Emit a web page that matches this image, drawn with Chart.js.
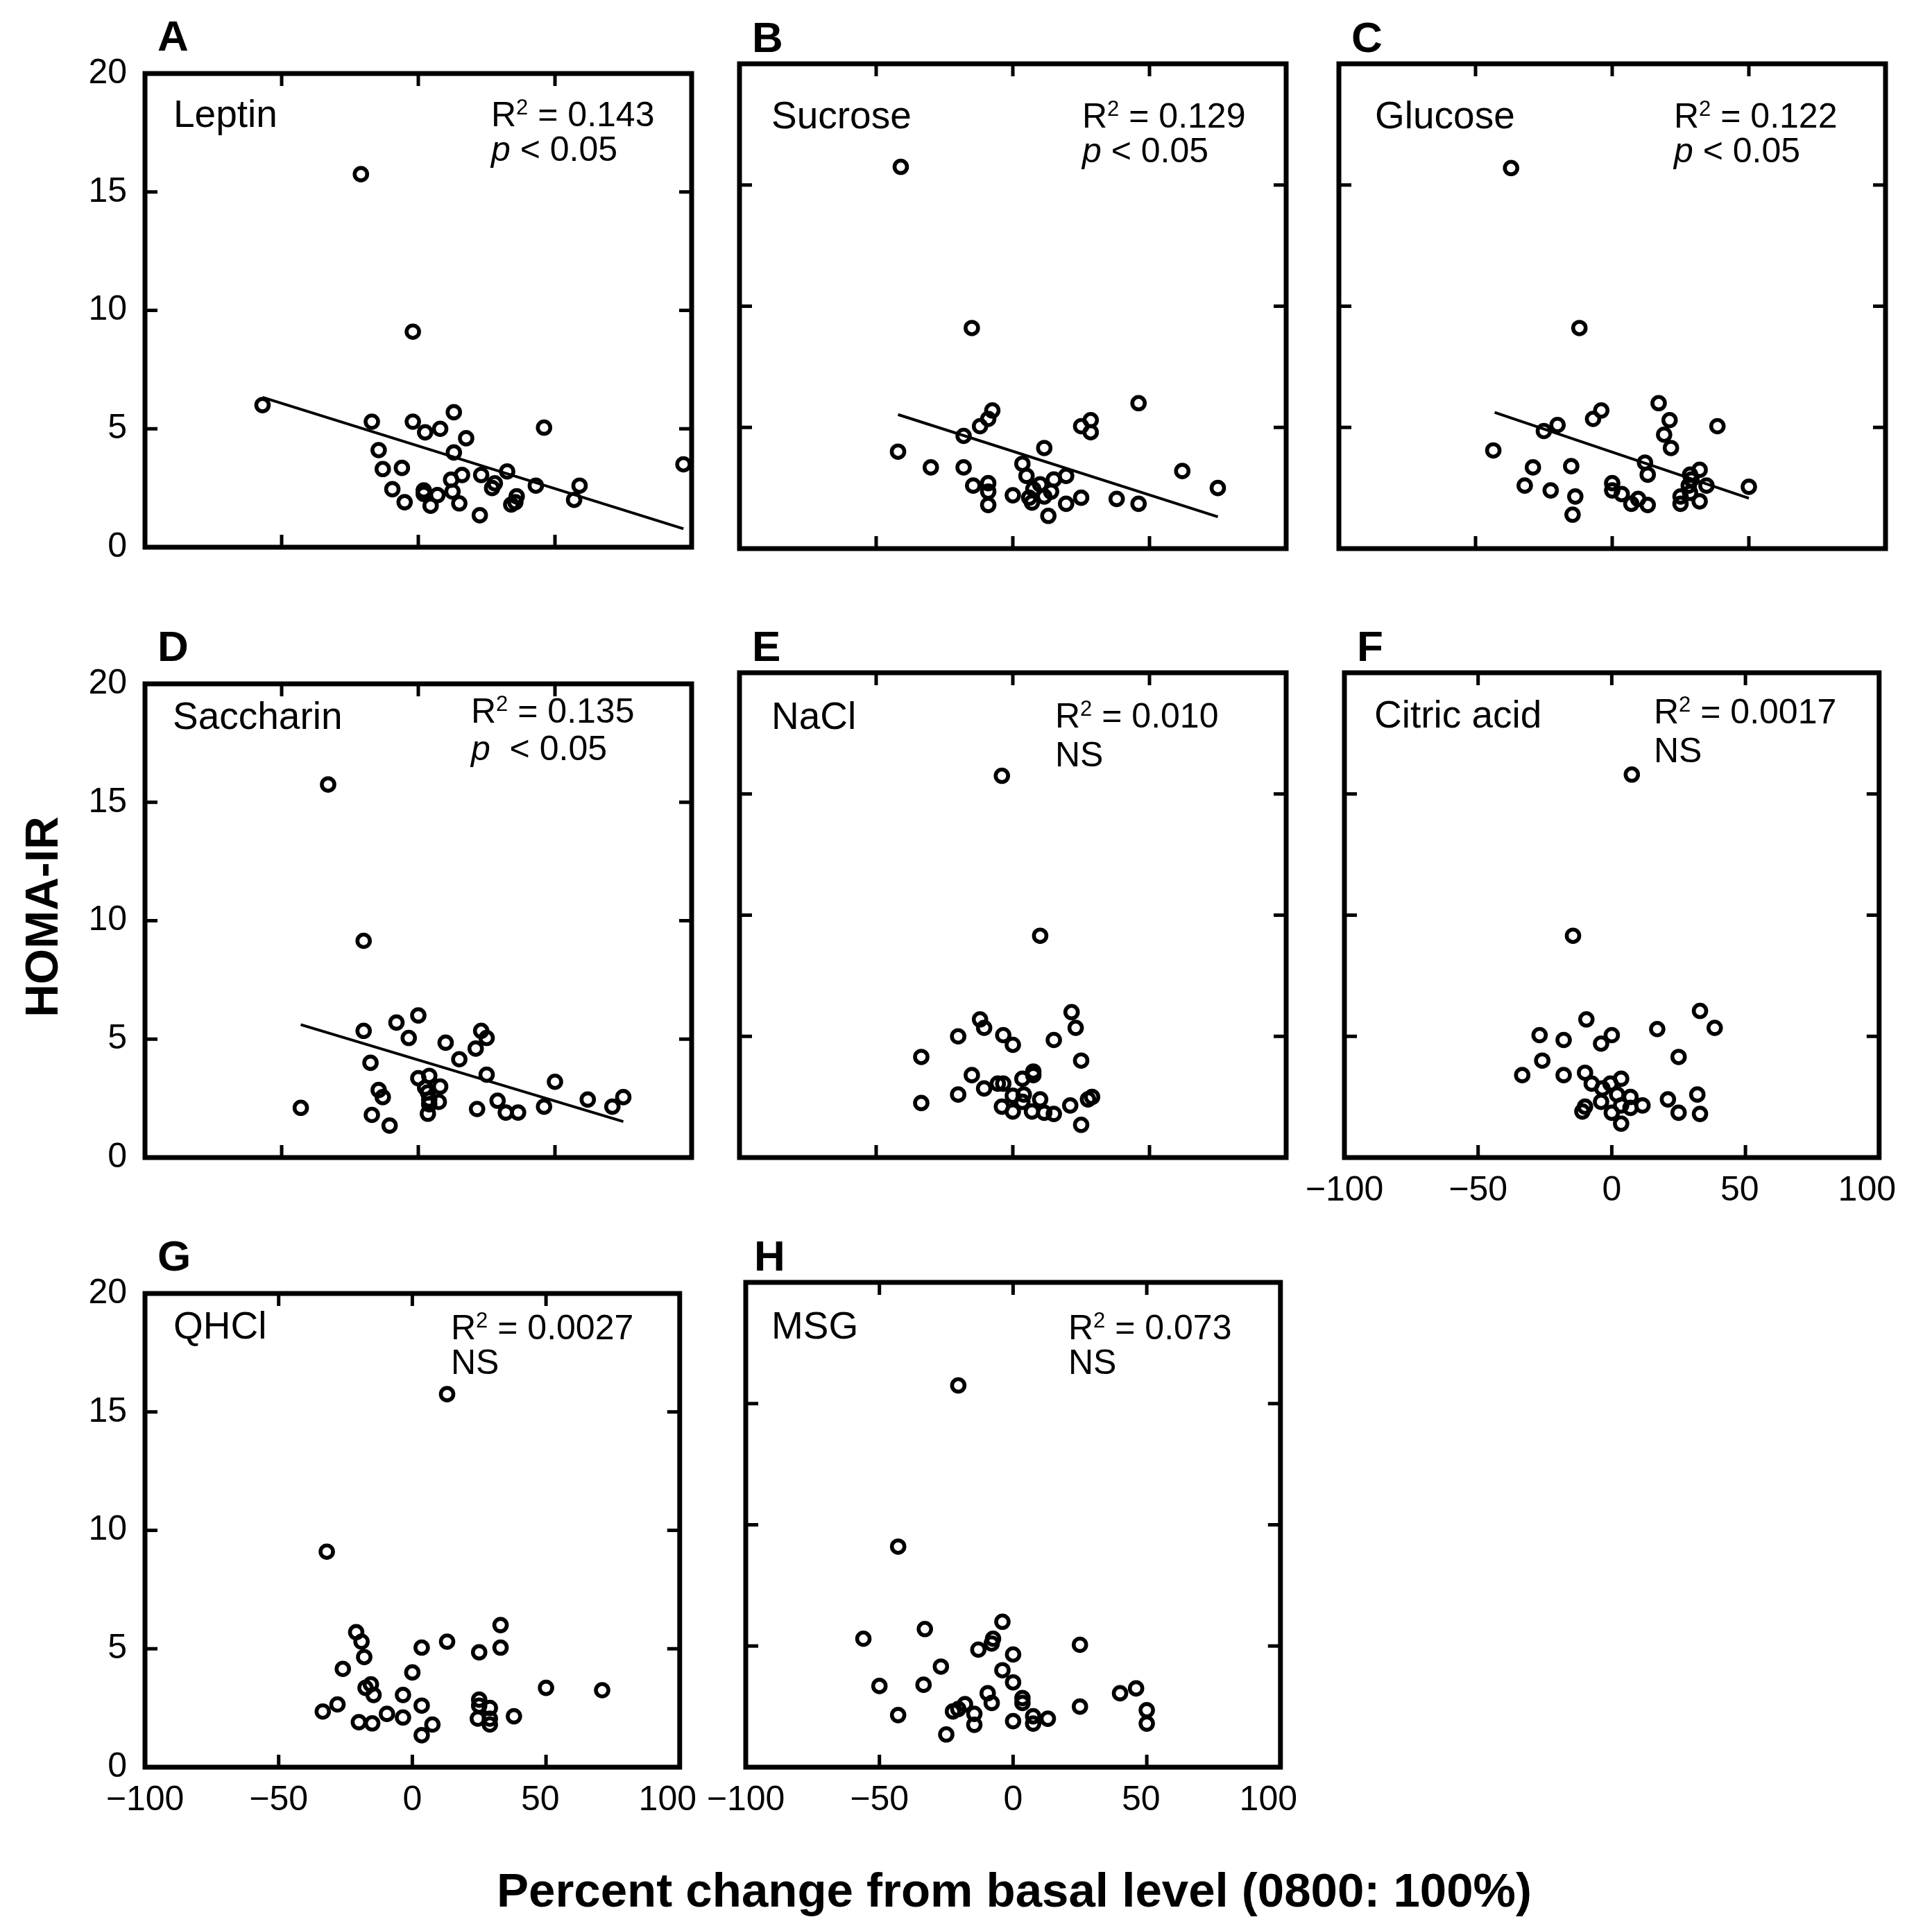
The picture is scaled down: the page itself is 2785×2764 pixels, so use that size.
<!DOCTYPE html>
<html>
<head>
<meta charset="utf-8">
<title>HOMA-IR vs percent change</title>
<script src="https://cdn.jsdelivr.net/npm/chart.js@4.4.1/dist/chart.umd.min.js"></script>
<style>
  html, body { margin: 0; padding: 0; background: #fff; }
  body {
    position: relative;
    width: 2785px;
    height: 2764px;
    overflow: hidden;
    font-family: 'Liberation Sans', Arial, Helvetica, sans-serif;
    color: #000;
  }
  .panel { position: absolute; }
  .txt { position: absolute; white-space: nowrap; line-height: 1; }
  .txt sup { font-size: 0.62em; position: relative; top: -0.52em; vertical-align: baseline; line-height: 0; }
  .letter { font-weight: bold; }
  .ytitle {
    font-weight: bold;
    font-size: 66px;
    left: 60px;
    top: 1322px;
    transform: translate(-50%, -50%) rotate(-90deg);
  }
  .xtitle {
    font-weight: bold;
    font-size: 69px;
    left: 1462px;
    transform: translateX(-50%);
  }
</style>
</head>
<body>
<div class="txt ytitle">HOMA-IR</div>
<div class="txt xtitle" id="xtitle">Percent change from basal level (0800: 100%)</div>

<script>
// Axis ticks
const xTicks = [-100, -50, 0, 50, 100];
const yTicks = [0, 5, 10, 15, 20];
const xInnerTicks = [-50, 0, 50];
const yInnerTicks = [5, 10, 15];

// A - Leptin
const leptinX = [-57, -21, -2, -17, -2, 13, 8, 2.5, 17.5, 46, -14.5, 13, -13, -6, 97, 16, 12, 23, 32.5, 28, 27, 43, 59, -9.5, 2, 2, 7, 12.5, 36, 35.5, 57, -5, 4.5, 15, 22.5, 34];
const leptinY = [6.0, 15.75, 9.1, 5.3, 5.3, 5.7, 5.0, 4.85, 4.6, 5.05, 4.1, 4.0, 3.3, 3.35, 3.5, 3.05, 2.85, 3.05, 3.2, 2.7, 2.5, 2.6, 2.6, 2.45, 2.4, 2.25, 2.2, 2.35, 2.15, 1.9, 2.0, 1.9, 1.75, 1.85, 1.35, 1.8];
const leptinFitX = [-57, 97];
const leptinFitY = [6.33, 0.78];

// B - Sucrose
const sucroseX = [-41, -15, 46, -7.5, -9, -12, -18, 25, 28.5, 28.5, -42, 11.5, -30, -18, 3.5, 5, 19.5, 15, 62, 75, -14.5, -9, -9, -9, 0, 10, 7.5, 14, 6, 11.5, 7, 19.5, 25, 38, 46, 13];
const sucroseY = [15.75, 9.1, 6.0, 5.7, 5.35, 5.05, 4.65, 5.05, 5.3, 4.8, 4.0, 4.15, 3.35, 3.35, 3.5, 3.0, 3.0, 2.85, 3.2, 2.5, 2.6, 2.7, 2.35, 1.8, 2.2, 2.65, 2.45, 2.35, 2.1, 2.15, 1.9, 1.85, 2.1, 2.05, 1.85, 1.35];
const sucroseFitX = [-42, 75];
const sucroseFitY = [5.53, 1.31];

// C - Glucose
const glucoseX = [-37, -12, 17, -4, -7, 21, 38.5, -20, -25, 19, 21.5, -43.5, -29, -15, 12, 13, 32, 28.5, 29, 28, 34.5, 50, -32, -22.5, 0, 0, 3.5, 9.5, 7, 13, -13.5, 25, 25, 28.5, 32, -14.5];
const glucoseY = [15.7, 9.1, 6.0, 5.7, 5.35, 5.3, 5.05, 5.1, 4.85, 4.7, 4.15, 4.05, 3.35, 3.4, 3.55, 3.05, 3.25, 3.05, 2.85, 2.6, 2.6, 2.55, 2.6, 2.4, 2.7, 2.4, 2.25, 2.05, 1.85, 1.8, 2.15, 2.15, 1.85, 2.3, 1.95, 1.4];
const glucoseFitX = [-43, 50];
const glucoseFitY = [5.62, 2.08];

// D - Saccharin
const saccharinX = [-33, -20, 0, -8, -20, 23, 25, -3.5, 10, 21, 15, -17.5, 25, 0, 4, 50, 8, 2.5, -14.5, 3.5, -13, 4, 7.5, 4, 29, 62, 75, 46, 71, -43, 21.5, 32, 36.5, -17, 3.5, -10.5];
const saccharinY = [15.75, 9.15, 6.0, 5.7, 5.35, 5.35, 5.05, 5.05, 4.85, 4.6, 4.15, 4.0, 3.5, 3.35, 3.45, 3.2, 3.0, 2.95, 2.85, 2.75, 2.55, 2.45, 2.35, 2.25, 2.4, 2.45, 2.55, 2.15, 2.15, 2.1, 2.05, 1.9, 1.9, 1.8, 1.85, 1.35];
const saccharinFitX = [-43, 75];
const saccharinFitY = [5.61, 1.52];

// E - NaCl
const naclX = [-4, 10, 21.5, -12, -10.5, 23, -20, -3.5, 0, 15, -33.5, 25, 7.5, 7.5, -15, 3.5, -5.5, -3.5, -10.5, -20, 4, 0, 10, 3.5, 29, 27.5, -33.5, -4, 21, 0, 7, 11.5, 15, 25];
const naclY = [15.75, 9.15, 6.0, 5.7, 5.35, 5.35, 5.0, 5.05, 4.65, 4.85, 4.15, 4.0, 3.55, 3.4, 3.4, 3.25, 3.05, 3.05, 2.85, 2.6, 2.6, 2.55, 2.4, 2.3, 2.5, 2.4, 2.25, 2.1, 2.15, 1.9, 1.9, 1.85, 1.8, 1.35];

// F - Citric acid
const citricX = [7.5, -14.5, 33, -9.5, 38.5, 17, -27, 0, -18, -4, 25, -26, -33.5, -18, -10, 3.5, -7.5, -0.5, -3.5, 32, 2, 7, 21, -4, 11.5, 3.5, 7, -10, -11, 0, 25, 33, 3.5];
const citricY = [15.8, 9.15, 6.05, 5.7, 5.35, 5.3, 5.05, 5.05, 4.85, 4.7, 4.15, 4.0, 3.4, 3.4, 3.5, 3.25, 3.05, 3.05, 2.85, 2.6, 2.6, 2.5, 2.4, 2.3, 2.15, 2.15, 2.05, 2.1, 1.9, 1.85, 1.85, 1.8, 1.4];

// G - QHCl
const qhclX = [13, -32, 33, -21, -19, 13, 3.5, 33, 25, -18, -26, 0, 50, 71, -15.5, -17.5, -14.5, -3.5, 25, 25, 29, 3.5, -28, -33.5, -9.5, -3.5, 24.5, 29, 38, -20, -15, 7.5, 29, 3.5];
const qhclY = [15.75, 9.1, 6.0, 5.7, 5.3, 5.3, 5.05, 5.05, 4.85, 4.65, 4.15, 4.0, 3.35, 3.25, 3.5, 3.35, 3.05, 3.05, 2.85, 2.6, 2.5, 2.6, 2.65, 2.35, 2.25, 2.1, 2.05, 2.05, 2.15, 1.9, 1.85, 1.8, 1.8, 1.35];

// H - MSG
const msgX = [-20.5, -43, -4, -33, -56, -7.5, -8, 25, -13, 0, -27, -4, 0, -50, -33.5, 46, 40, -9.5, 3.5, 3.5, -8, -18, -20.5, -22.5, 25, 50, -14.5, 7.5, 13, -43, 0, 7.5, -14.5, 50, -25];
const msgY = [15.75, 9.1, 6.0, 5.7, 5.3, 5.3, 5.1, 5.05, 4.85, 4.65, 4.15, 4.0, 3.5, 3.35, 3.4, 3.25, 3.05, 3.05, 2.85, 2.65, 2.65, 2.6, 2.4, 2.3, 2.5, 2.35, 2.2, 2.1, 2.0, 2.15, 1.9, 1.8, 1.75, 1.8, 1.35];

// Layout
const PAD_L = 130, PAD_T = 40, PAD_R = 60, PAD_B = 100;
const FONT = "'Liberation Sans', Arial, Helvetica, sans-serif";
const TICK_LEN = 18;

const panels = [
  { letter: 'A', xs: leptinX, ys: leptinY, fitX: leptinFitX, fitY: leptinFitY, name: 'Leptin',
    stat1: 'R<sup>2</sup> = 0.143', stat2: '<i>p</i> &lt; 0.05',
    left: 209, top: 90, showY: true, showX: false, nameDx: 41, statDx: 499, nameBase: 94, stat1Base: 92, stat2Base: 142 },
  { letter: 'B', xs: sucroseX, ys: sucroseY, fitX: sucroseFitX, fitY: sucroseFitY, name: 'Sucrose',
    stat1: 'R<sup>2</sup> = 0.129', stat2: '<i>p</i> &lt; 0.05',
    left: 1066, top: 92, showY: false, showX: false, nameDx: 46, statDx: 494, nameBase: 94, stat1Base: 92, stat2Base: 142 },
  { letter: 'C', xs: glucoseX, ys: glucoseY, fitX: glucoseFitX, fitY: glucoseFitY, name: 'Glucose',
    stat1: 'R<sup>2</sup> = 0.122', stat2: '<i>p</i> &lt; 0.05',
    left: 1930, top: 92, showY: false, showX: false, nameDx: 52, statDx: 483, nameBase: 94, stat1Base: 92, stat2Base: 142 },
  { letter: 'D', xs: saccharinX, ys: saccharinY, fitX: saccharinFitX, fitY: saccharinFitY, name: 'Saccharin',
    stat1: 'R<sup>2</sup> = 0.135', stat2: '<i>p</i>&nbsp; &lt; 0.05',
    left: 209, top: 970, showY: true, showX: false, nameDx: 40, statDx: 470, nameBase: 82, stat1Base: 72, stat2Base: 126 },
  { letter: 'E', xs: naclX, ys: naclY, name: 'NaCl',
    stat1: 'R<sup>2</sup> = 0.010', stat2: 'NS',
    left: 1066, top: 970, showY: false, showX: false, nameDx: 46, statDx: 455, nameBase: 82, stat1Base: 79, stat2Base: 135 },
  { letter: 'F', xs: citricX, ys: citricY, name: 'Citric acid',
    stat1: 'R<sup>2</sup> = 0.0017', stat2: 'NS',
    left: 1938, top: 970, showY: false, showX: true, nameDx: 43, statDx: 446, nameBase: 80, stat1Base: 73, stat2Base: 129 },
  { letter: 'G', xs: qhclX, ys: qhclY, name: 'QHCl',
    stat1: 'R<sup>2</sup> = 0.0027', stat2: 'NS',
    left: 209, top: 1849, showY: true, showX: true, nameDx: 41, statDx: 441, nameBase: 82, stat1Base: 82, stat2Base: 132 },
  { letter: 'H', xs: msgX, ys: msgY, name: 'MSG',
    stat1: 'R<sup>2</sup> = 0.073', stat2: 'NS',
    left: 1075, top: 1849, showY: false, showX: true, nameDx: 37, statDx: 465, nameBase: 82, stat1Base: 82, stat2Base: 132 }
];
const PLOT_W = 788, PLOT_H = 699;

// Frame and inward tick marks
const framePlugin = {
  id: 'frame',
  afterDatasetsDraw(chart) {
    const { ctx, chartArea: a, scales: { x, y } } = chart;
    ctx.save();
    ctx.strokeStyle = '#000';
    ctx.lineWidth = 5;
    ctx.beginPath();
    xInnerTicks.forEach(v => {
      const px = x.getPixelForValue(v);
      ctx.moveTo(px, a.bottom); ctx.lineTo(px, a.bottom - TICK_LEN);
      ctx.moveTo(px, a.top); ctx.lineTo(px, a.top + TICK_LEN);
    });
    yInnerTicks.forEach(v => {
      const py = y.getPixelForValue(v);
      ctx.moveTo(a.left, py); ctx.lineTo(a.left + TICK_LEN, py);
      ctx.moveTo(a.right, py); ctx.lineTo(a.right - TICK_LEN, py);
    });
    ctx.stroke();
    ctx.lineWidth = 7;
    ctx.strokeRect(a.left, a.top, a.right - a.left, a.bottom - a.top);
    ctx.restore();
  }
};

function addText(html, x, baseline, size, cls) {
  const el = document.createElement('div');
  el.className = 'txt' + (cls ? ' ' + cls : '');
  el.innerHTML = html;
  el.style.fontSize = size + 'px';
  el.style.left = x + 'px';
  el.style.top = (baseline - 0.85 * size) + 'px';
  document.body.appendChild(el);
  return el;
}

function formatY(v) {
  return String(v);
}

// positive x labels sit a little left of their tick in the original
function formatX(v) {
  if (v < 0) return '\u2212' + Math.abs(v);
  if (v === 100) return v + '\u2002\u2009';
  if (v === 50) return v + '\u2004';
  return String(v);
}

function makePanel(p) {
  const wrap = document.createElement('div');
  wrap.className = 'panel';
  const cw = PLOT_W + PAD_L + PAD_R;
  const ch = PLOT_H + PAD_T + PAD_B;
  wrap.style.left = (p.left - PAD_L) + 'px';
  wrap.style.top = (p.top - PAD_T) + 'px';
  wrap.style.width = cw + 'px';
  wrap.style.height = ch + 'px';
  const canvas = document.createElement('canvas');
  canvas.width = cw;
  canvas.height = ch;
  canvas.style.width = cw + 'px';
  canvas.style.height = ch + 'px';
  wrap.appendChild(canvas);
  document.body.appendChild(wrap);

  const datasets = [{
    label: p.name,
    data: p.xs.map((x, i) => ({ x: x, y: p.ys[i] })),
    pointStyle: 'circle',
    pointRadius: 9,
    pointHoverRadius: 9,
    borderWidth: 5.6,
    borderColor: '#000',
    backgroundColor: 'rgba(0,0,0,0)',
    showLine: false
  }];
  if (p.fitX) {
    datasets.push({
      label: p.name + ' fit',
      data: p.fitX.map((x, i) => ({ x: x, y: p.fitY[i] })),
      showLine: true,
      borderColor: '#000',
      borderWidth: 4,
      pointRadius: 0,
      fill: false
    });
  }

  new Chart(canvas, {
    type: 'scatter',
    data: { datasets: datasets },
    options: {
      responsive: false,
      animation: false,
      devicePixelRatio: 1,
      layout: { padding: { top: PAD_T, right: PAD_R, left: 0, bottom: 0 } },
      plugins: { legend: { display: false }, tooltip: { enabled: false } },
      scales: {
        x: {
          type: 'linear',
          min: -100,
          max: 100,
          afterBuildTicks: s => { s.ticks = xTicks.map(v => ({ value: v })); },
          afterFit: s => { s.height = PAD_B; },
          grid: { display: false, drawTicks: false },
          border: { display: false },
          ticks: {
            display: p.showX,
            padding: 18,
            color: '#000',
            maxRotation: 0,
            autoSkip: false,
            font: { family: FONT, size: 50 },
            callback: formatX
          }
        },
        y: {
          type: 'linear',
          min: 0,
          max: 20,
          afterBuildTicks: s => { s.ticks = yTicks.map(v => ({ value: v })); },
          afterFit: s => { s.width = PAD_L; },
          grid: { display: false, drawTicks: false },
          border: { display: false },
          ticks: {
            display: p.showY,
            padding: 26,
            color: '#000',
            autoSkip: false,
            font: { family: FONT, size: 50 },
            callback: formatY
          }
        }
      }
    },
    plugins: [framePlugin]
  });

  // Panel letter, name and statistics
  addText(p.letter, p.left + (p.letter === 'H' ? 12 : 18), p.top - 16, 62, 'letter');
  addText(p.name, p.left + p.nameDx, p.top + p.nameBase, 55);
  addText(p.stat1, p.left + p.statDx, p.top + p.stat1Base, 50);
  addText(p.stat2, p.left + p.statDx, p.top + p.stat2Base, 50);
}

panels.forEach(makePanel);

// x axis title placed by its baseline
document.getElementById('xtitle').style.top = (2750 - 0.85 * 69) + 'px';
</script>
</body>
</html>
